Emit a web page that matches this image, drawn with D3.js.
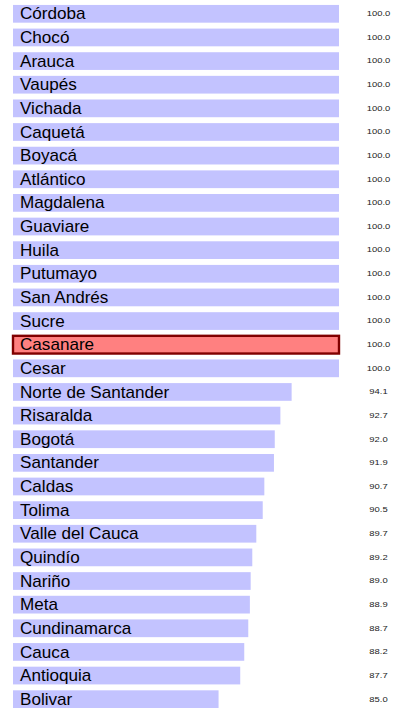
<!DOCTYPE html>
<html>
<head>
<meta charset="utf-8">
<script src="https://cdn.jsdelivr.net/npm/d3@7"></script>
<style>
  html, body { margin: 0; padding: 0; background: #fff; }
  svg { display: block; }
  text { font-family: "Liberation Sans", Arial, sans-serif; }
</style>
</head>
<body>
<svg id="chart" width="393" height="708"></svg>
<script>
// Departments and their values, top to bottom
const departments = [
  "Córdoba", "Chocó", "Arauca", "Vaupés", "Vichada", "Caquetá", "Boyacá",
  "Atlántico", "Magdalena", "Guaviare", "Huila", "Putumayo", "San Andrés",
  "Sucre", "Casanare", "Cesar", "Norte de Santander", "Risaralda", "Bogotá",
  "Santander", "Caldas", "Tolima", "Valle del Cauca", "Quindío", "Nariño",
  "Meta", "Cundinamarca", "Cauca", "Antioquia", "Bolivar"
];
const values = [
  100.0, 100.0, 100.0, 100.0, 100.0, 100.0, 100.0,
  100.0, 100.0, 100.0, 100.0, 100.0, 100.0,
  100.0, 100.0, 100.0, 94.1, 92.7, 92.0,
  91.9, 90.7, 90.5, 89.7, 89.2, 89.0,
  88.9, 88.7, 88.2, 87.7, 85.0
];
const highlighted = ["Casanare"];

const rows = departments.map((name, i) => ({ name, value: values[i] }));

const svg = d3.select("#chart");

const x = d3.scaleLinear().domain([59.4, 100]).range([13, 339]);
const y = d3.scaleBand()
  .domain(departments)
  .range([2, 711])
  .paddingInner(0.25)
  .paddingOuter(0.125);

const row = svg.selectAll("g.row")
  .data(rows)
  .join("g")
  .attr("class", "row");

row.append("rect")
  .attr("x", x.range()[0])
  .attr("y", d => y(d.name))
  .attr("width", d => x(d.value) - x.range()[0])
  .attr("height", y.bandwidth())
  .attr("fill", d => highlighted.includes(d.name) ? "#ff8080" : "#c3c3ff")
  .attr("stroke", d => highlighted.includes(d.name) ? "#800000" : "none")
  .attr("stroke-width", 2.4);

// Department names, slightly widened
row.append("text")
  .attr("transform", d => `translate(20,${y(d.name) + y.bandwidth() / 2}) scale(1.07,1)`)
  .attr("dy", "0.35em")
  .attr("font-size", 16)
  .attr("fill", "#000")
  .text(d => d.name);

// Value labels in the right margin
row.append("text")
  .attr("transform", d => `translate(378.5,${y(d.name) + y.bandwidth() / 2}) scale(1.45,1)`)
  .attr("dy", "0.36em")
  .attr("text-anchor", "middle")
  .attr("font-size", 6.5)
  .attr("fill", "#222")
  .text(d => d3.format(".1f")(d.value));
</script>
</body>
</html>
